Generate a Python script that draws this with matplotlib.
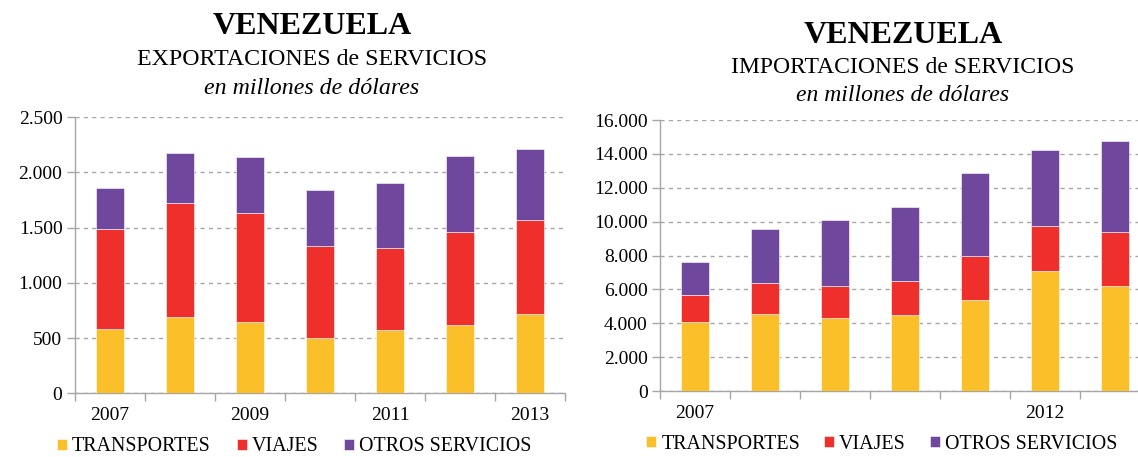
import matplotlib
matplotlib.use('Agg')
import matplotlib.pyplot as plt
import numpy as np

plt.rcParams['font.family'] = ['Liberation Serif', 'DejaVu Serif']

years = ['2007', '2008', '2009', '2010', '2011', '2012', '2013']
series = ['TRANSPORTES', 'VIAJES', 'OTROS SERVICIOS']
colors = ['#FBBF2A', '#EE2F2B', '#6F489D']

# exportaciones de servicios (millones de USD)
exp_transportes = [586, 688, 646, 501, 577, 619, 716]
exp_viajes = [903, 1033, 987, 830, 736, 842, 857]
exp_otros = [368, 459, 505, 511, 589, 692, 640]

# importaciones de servicios (millones de USD)
imp_transportes = [4083, 4574, 4299, 4476, 5379, 7087, 6184]
imp_viajes = [1571, 1786, 1904, 2002, 2611, 2670, 3219]
imp_otros = [1963, 3220, 3887, 4378, 4868, 4475, 5379]

GRID = '#a6a6a6'


def stacked(ax, parts, ymax, ystep, label_years):
    x = np.arange(len(years))
    bottom = np.zeros(len(years))
    handles = []
    for vals, col, name in zip(parts, colors, series):
        h = ax.bar(x, vals, 0.4, bottom=bottom, color=col, label=name,
                   edgecolor='white', linewidth=0.4, zorder=3)
        bottom += np.array(vals)
        handles.append(h)
    ax.set_xlim(-0.5, len(years) - 0.5)
    ax.set_ylim(0, ymax)
    yt = np.arange(0, ymax + 1, ystep)
    ax.set_yticks(yt)
    ax.set_yticklabels(['{:,}'.format(int(v)).replace(',', '.') for v in yt])
    ax.yaxis.grid(True, color=GRID, linestyle=(0, (3, 3)), linewidth=1, zorder=0)
    ax.set_xticks(np.arange(len(years) + 1) - 0.5)
    ax.set_xticklabels([])
    ax.set_xticks([years.index(y) for y in label_years], minor=True)
    ax.set_xticklabels(label_years, minor=True)
    ax.tick_params(axis='x', which='major', length=6, color=GRID, width=1)
    ax.tick_params(axis='x', which='minor', length=0, pad=10, labelsize=14)
    ax.tick_params(axis='y', length=6, color=GRID, width=1, labelsize=14, pad=3)
    for s in ['top', 'right']:
        ax.spines[s].set_visible(False)
    for s in ['left', 'bottom']:
        ax.spines[s].set_color(GRID)
        ax.spines[s].set_linewidth(1)
    return handles


fig = plt.figure(figsize=(11.38, 4.57), dpi=100)

ax1 = fig.add_axes([0.0659, 0.1394, 0.4306, 0.604])
h1 = stacked(ax1, [exp_transportes, exp_viajes, exp_otros], 2500, 500,
             ['2007', '2009', '2011', '2013'])

# the import panel runs past the right edge of the figure
ax2 = fig.add_axes([0.580, 0.1444, 0.4306, 0.593])
h2 = stacked(ax2, [imp_transportes, imp_viajes, imp_otros], 16000, 2000,
             ['2007', '2012'])

fig.text(0.274, 0.943, 'VENEZUELA', ha='center', va='center',
         fontsize=23, fontweight='bold')
fig.text(0.274, 0.870, 'EXPORTACIONES de SERVICIOS', ha='center', va='center',
         fontsize=17.2)
fig.text(0.274, 0.806, 'en millones de dólares', ha='center', va='center',
         fontsize=17.2, style='italic')

fig.text(0.7935, 0.923, 'VENEZUELA', ha='center', va='center',
         fontsize=23, fontweight='bold')
fig.text(0.7935, 0.852, 'IMPORTACIONES de SERVICIOS', ha='center', va='center',
         fontsize=17)
fig.text(0.7935, 0.791, 'en millones de dólares', ha='center', va='center',
         fontsize=17, style='italic')

leg_kw = dict(loc='center left', ncol=3, frameon=False, fontsize=14.4,
              handlelength=0.5, handleheight=0.5, handletextpad=0.25,
              borderpad=0, borderaxespad=0)
fig.legend(h1, series, bbox_to_anchor=(0.050, 0.022), columnspacing=1.3,
           **leg_kw)
fig.legend(h2, series, bbox_to_anchor=(0.568, 0.028), columnspacing=1.2,
           **leg_kw)

plt.savefig('out.png', dpi=100)
